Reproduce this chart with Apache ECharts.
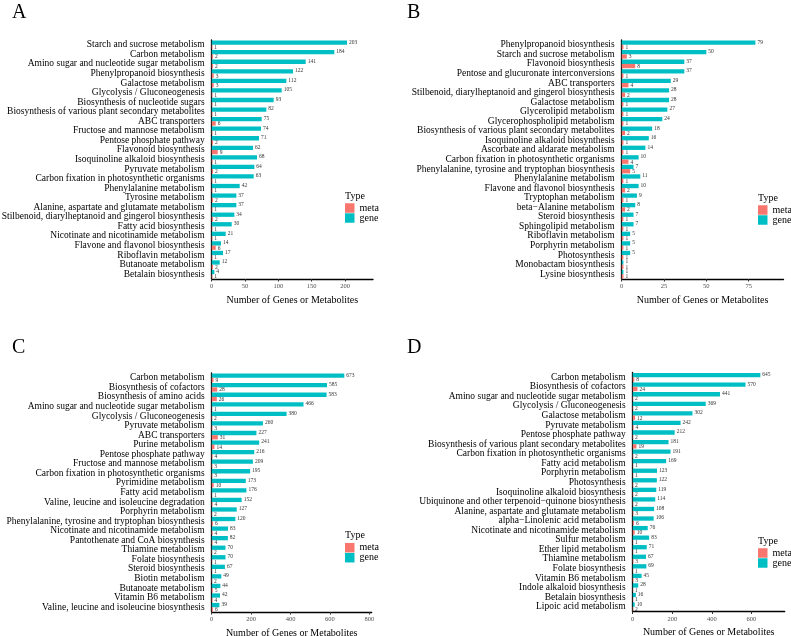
<!DOCTYPE html>
<html>
<head>
<meta charset="utf-8">
<script src="https://cdn.jsdelivr.net/npm/echarts@6/dist/echarts.min.js"></script>
<style>
html, body { margin: 0; padding: 0; background: #fff; }
#main { width: 791px; height: 636px; }
</style>
</head>
<body>
<div id="main"></div>
<script>
// panel A
const catsA = ['Starch and sucrose metabolism', 'Carbon metabolism', 'Amino sugar and nucleotide sugar metabolism',
  'Phenylpropanoid biosynthesis', 'Galactose metabolism', 'Glycolysis / Gluconeogenesis',
  'Biosynthesis of nucleotide sugars', 'Biosynthesis of various plant secondary metabolites', 'ABC transporters',
  'Fructose and mannose metabolism', 'Pentose phosphate pathway', 'Flavonoid biosynthesis',
  'Isoquinoline alkaloid biosynthesis', 'Pyruvate metabolism', 'Carbon fixation in photosynthetic organisms',
  'Phenylalanine metabolism', 'Tyrosine metabolism', 'Alanine, aspartate and glutamate metabolism',
  'Stilbenoid, diarylheptanoid and gingerol biosynthesis', 'Fatty acid biosynthesis',
  'Nicotinate and nicotinamide metabolism', 'Flavone and flavonol biosynthesis', 'Riboflavin metabolism',
  'Butanoate metabolism', 'Betalain biosynthesis'];
const geneA = [203, 184, 141, 122, 112, 105, 93, 82, 75, 74, 71, 62, 68, 64, 63, 42, 37, 37, 34, 30, 21, 14, 17, 12, 4];
const metaA = [1, 2, 2, 3, 3, 1, 1, 1, 6, 1, 2, 9, 1, 2, 1, 1, 2, 1, 2, 1, 1, 6, 1, 2, 1];
const ticksA = [0, 50, 100, 150, 200];

// panel B
const catsB = ['Phenylpropanoid biosynthesis', 'Starch and sucrose metabolism', 'Flavonoid biosynthesis',
  'Pentose and glucuronate interconversions', 'ABC transporters',
  'Stilbenoid, diarylheptanoid and gingerol biosynthesis', 'Galactose metabolism', 'Glycerolipid metabolism',
  'Glycerophospholipid metabolism', 'Biosynthesis of various plant secondary metabolites',
  'Isoquinoline alkaloid biosynthesis', 'Ascorbate and aldarate metabolism',
  'Carbon fixation in photosynthetic organisms', 'Phenylalanine, tyrosine and tryptophan biosynthesis',
  'Phenylalanine metabolism', 'Flavone and flavonol biosynthesis', 'Tryptophan metabolism',
  'beta\u2212Alanine metabolism', 'Steroid biosynthesis', 'Sphingolipid metabolism', 'Riboflavin metabolism',
  'Porphyrin metabolism', 'Photosynthesis', 'Monobactam biosynthesis', 'Lysine biosynthesis'];
const geneB = [79, 50, 37, 37, 29, 28, 28, 27, 24, 18, 16, 14, 10, 7, 11, 10, 9, 8, 7, 7, 5, 5, 5, 1, 1];
const metaB = [1, 3, 8, 1, 4, 2, 1, 1, 1, 2, 1, 1, 4, 5, 1, 2, 1, 2, 1, 1, 1, 1, 1, 1, 1];
const ticksB = [0, 25, 50, 75];

// panel C
const catsC = ['Carbon metabolism', 'Biosynthesis of cofactors', 'Biosynthesis of amino acids',
  'Amino sugar and nucleotide sugar metabolism', 'Glycolysis / Gluconeogenesis', 'Pyruvate metabolism',
  'ABC transporters', 'Purine metabolism', 'Pentose phosphate pathway', 'Fructose and mannose metabolism',
  'Carbon fixation in photosynthetic organisms', 'Pyrimidine metabolism', 'Fatty acid metabolism',
  'Valine, leucine and isoleucine degradation', 'Porphyrin metabolism',
  'Phenylalanine, tyrosine and tryptophan biosynthesis', 'Nicotinate and nicotinamide metabolism',
  'Pantothenate and CoA biosynthesis', 'Thiamine metabolism', 'Folate biosynthesis', 'Steroid biosynthesis',
  'Biotin metabolism', 'Butanoate metabolism', 'Vitamin B6 metabolism',
  'Valine, leucine and isoleucine biosynthesis'];
const geneC = [673, 585, 583, 466, 380, 260, 227, 241, 216, 209, 195, 173, 176, 152, 127, 120, 83, 82, 70, 70, 67, 49, 44, 42, 39];
const metaC = [9, 28, 26, 1, 2, 3, 31, 14, 4, 3, 3, 10, 1, 4, 2, 6, 4, 4, 2, 1, 1, 2, 5, 4, 6];
const ticksC = [0, 200, 400, 600, 800];

// panel D
const catsD = ['Carbon metabolism', 'Biosynthesis of cofactors', 'Amino sugar and nucleotide sugar metabolism',
  'Glycolysis / Gluconeogenesis', 'Galactose metabolism', 'Pyruvate metabolism', 'Pentose phosphate pathway',
  'Biosynthesis of various plant secondary metabolites', 'Carbon fixation in photosynthetic organisms',
  'Fatty acid metabolism', 'Porphyrin metabolism', 'Photosynthesis', 'Isoquinoline alkaloid biosynthesis',
  'Ubiquinone and other terpenoid\u2212quinone biosynthesis', 'Alanine, aspartate and glutamate metabolism',
  'alpha\u2212Linolenic acid metabolism', 'Nicotinate and nicotinamide metabolism', 'Sulfur metabolism',
  'Ether lipid metabolism', 'Thiamine metabolism', 'Folate biosynthesis', 'Vitamin B6 metabolism',
  'Indole alkaloid biosynthesis', 'Betalain biosynthesis', 'Lipoic acid metabolism'];
const geneD = [645, 570, 441, 369, 302, 242, 212, 181, 191, 169, 123, 122, 119, 114, 108, 106, 76, 83, 71, 67, 69, 45, 28, 16, 10];
const metaD = [8, 24, 2, 2, 12, 4, 2, 19, 2, 1, 1, 2, 2, 2, 3, 6, 10, 1, 1, 3, 1, 3, 1, 1, 2];
const ticksD = [0, 200, 400, 600];

const SERIF = '"Liberation Serif", "DejaVu Serif", serif';
const GENE = '#00BFC4';
const META = '#F8766D';

const panels = [
  { letter: 'A', cats: catsA, gene: geneA, meta: metaA, ticks: ticksA, max: 242,
    left: 211.7, top: 40, width: 161.3, lx: 12, ly: 3, legX: 345, legY: 203 },
  { letter: 'B', cats: catsB, gene: geneB, meta: metaB, ticks: ticksB, max: 95.6,
    left: 621.7, top: 40, width: 161.8, lx: 407, ly: 3, legX: 758, legY: 205 },
  { letter: 'C', cats: catsC, gene: geneC, meta: metaC, ticks: ticksC, max: 812,
    left: 211.7, top: 373, width: 160, lx: 12, ly: 338, legX: 345, legY: 542.7 },
  { letter: 'D', cats: catsD, gene: geneD, meta: metaD, ticks: ticksD, max: 768,
    left: 632.7, top: 372.5, width: 152, lx: 407, ly: 338, legX: 758, legY: 548 }
];

const grid = [], xAxis = [], yAxis = [], series = [], legend = [], title = [];

panels.forEach((p, i) => {
  grid.push({ left: p.left, top: p.top, width: p.width, height: 239, containLabel: false, outerBoundsMode: 'none' });
  xAxis.push({
    type: 'value', gridIndex: i, min: 0, max: p.max,
    axisLine: { show: true, lineStyle: { color: '#000', width: 1.3 } },
    axisTick: { show: true, length: 2.5, lineStyle: { color: '#333' }, customValues: p.ticks },
    axisLabel: { customValues: p.ticks, fontSize: 6.5, color: '#4d4d4d', margin: 4, fontFamily: SERIF },
    splitLine: { show: false },
    name: 'Number of Genes or Metabolites', nameLocation: 'middle', nameGap: 16,
    nameTextStyle: { fontSize: 10, color: '#000', fontFamily: SERIF }
  });
  yAxis.push({
    type: 'category', gridIndex: i, data: p.cats, inverse: true,
    axisLine: { lineStyle: { color: '#000', width: 1.3 } },
    axisTick: { length: 3, alignWithLabel: true, interval: 0, lineStyle: { color: '#000' } },
    axisLabel: { interval: 0, fontSize: 9.5, color: '#000', fontFamily: SERIF, margin: 7 }
  });
  series.push({
    name: 'gene', type: 'bar', xAxisIndex: i, yAxisIndex: i, data: p.gene,
    barWidth: 4.3, barGap: '0%', itemStyle: { color: GENE },
    label: { show: true, position: 'right', distance: 2, offset: [0, -0.5], fontSize: 5.5, color: '#333', fontFamily: SERIF }
  });
  series.push({
    name: 'meta', type: 'bar', xAxisIndex: i, yAxisIndex: i, data: p.meta,
    barWidth: 4.3, barGap: '0%', itemStyle: { color: META },
    label: { show: true, position: 'right', distance: 2, offset: [0, 0.5], fontSize: 5.5, color: '#333', fontFamily: SERIF }
  });
  legend.push({
    data: ['meta', 'gene'], orient: 'vertical', left: p.legX, top: p.legY,
    icon: 'rect', itemWidth: 9.5, itemHeight: 9.5, itemGap: 0, selectedMode: false, padding: 0,
    textStyle: { fontSize: 10, color: '#000', fontFamily: SERIF, lineHeight: 9.5 }
  });
  title.push({
    text: p.letter, left: p.lx, top: p.ly, padding: 0,
    textStyle: { fontSize: 20, fontWeight: 'normal', color: '#000', fontFamily: SERIF }
  });
  title.push({
    text: 'Type', left: p.legX, top: p.legY - 12, padding: 0,
    textStyle: { fontSize: 10, fontWeight: 'normal', color: '#000', fontFamily: SERIF }
  });
});

const chart = echarts.init(document.getElementById('main'));
chart.setOption({
  animation: false,
  backgroundColor: '#fff',
  title: title,
  legend: legend,
  grid: grid,
  xAxis: xAxis,
  yAxis: yAxis,
  series: series
});
</script>
</body>
</html>
